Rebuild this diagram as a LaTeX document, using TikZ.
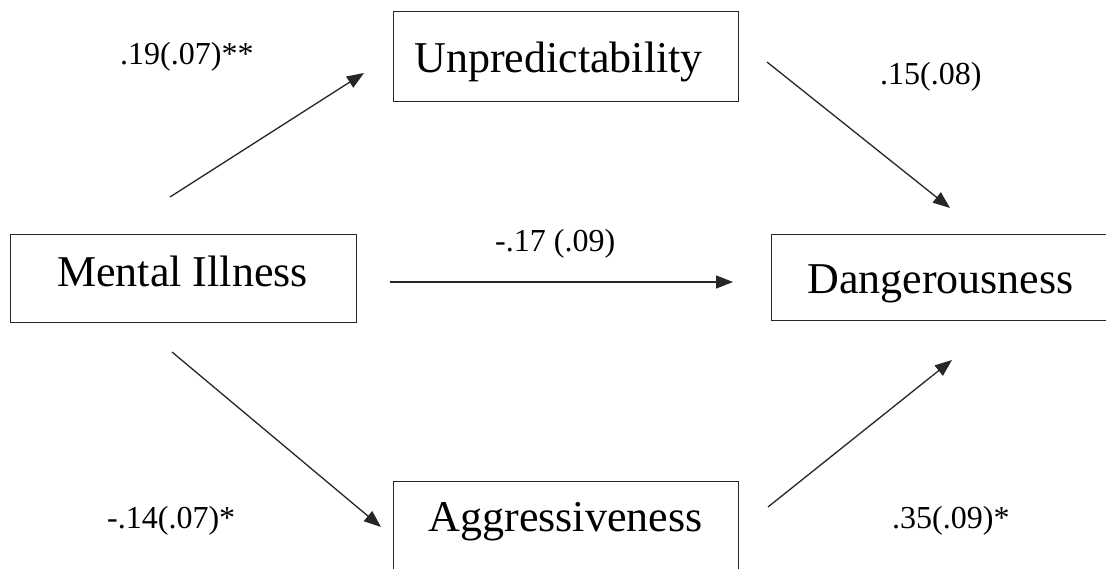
\documentclass[tikz,border=0pt]{standalone}
\usepackage{fontspec}
\setmainfont{Liberation Serif}
\usetikzlibrary{arrows.meta}
\begin{document}
\begin{tikzpicture}[x=1pt,y=-1pt,
 box/.style={draw=black!85, line width=1.3pt, inner sep=0pt, anchor=north west},
 lbl/.style={font=\fontsize{44}{50}\selectfont, anchor=base, inner sep=0pt},
 coef/.style={font=\fontsize{32}{38}\selectfont, anchor=base west, inner sep=0pt},
 arr/.style={line width=1.3pt, draw=black!85, -{Triangle[length=17pt,width=13pt]}}]
\clip (0,0) rectangle (1106,569);
\fill[white] (0,0) rectangle (1106,569);
% boxes
\node[box, minimum width=346pt, minimum height=88pt] (mi) at (10,234) {};
\node[lbl] (mit) at (182.5,287) {Mental Illness};
\node[box, minimum width=345pt, minimum height=90pt] (up) at (393,11) {};
\node[lbl] (upt) at (558.5,73) {Unpredictability};
\node[box, minimum width=345pt, minimum height=120pt] (ag) at (393,481) {};
\node[lbl] (agt) at (565.5,531) {Aggressiveness};
\node[box, minimum width=360pt, minimum height=86pt] (da) at (771,234) {};
\node[lbl] (dat) at (940.5,294) {Dangerousness};
% arrow endpoints
\coordinate (a1s) at (170,197); \coordinate (a1e) at (364,73);
\coordinate (a2s) at (767,62);  \coordinate (a2e) at (950,208);
\coordinate (a3s) at (390,282); \coordinate (a3e) at (733,282);
\coordinate (a4s) at (172,352); \coordinate (a4e) at (381,527);
\coordinate (a5s) at (768,507); \coordinate (a5e) at (952,360);
\draw[arr] (a1s) -- (a1e);
\draw[arr] (a2s) -- (a2e);
\draw[arr] (a3s) -- (a3e);
\draw[arr] (a4s) -- (a4e);
\draw[arr] (a5s) -- (a5e);
% coefficients
\node[coef] (c1) at (120,65) {.19(.07)**};
\node[coef] (c2) at (880,85) {.15(.08)};
\node[coef] (c3) at (495,252) {-.17 (.09)};
\node[coef] (c4) at (107,528) {-.14(.07)*};
\node[coef] (c5) at (892,528) {.35(.09)*};
\end{tikzpicture}
\end{document}
